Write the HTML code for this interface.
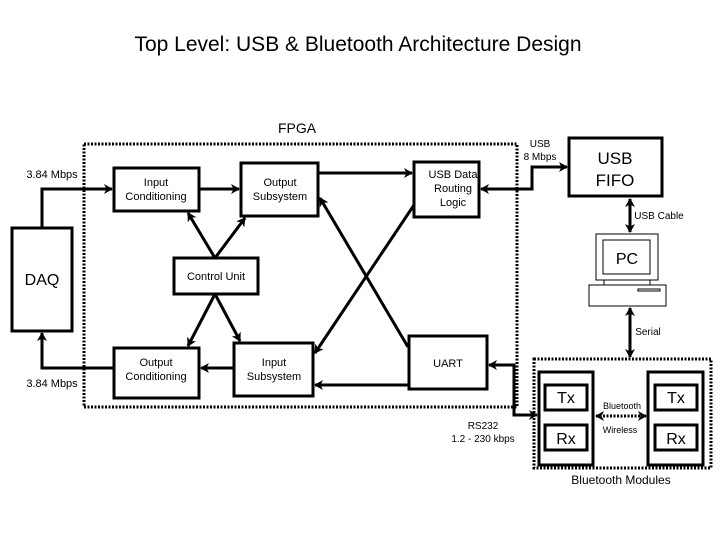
<!DOCTYPE html>
<html><head><style>
html,body{margin:0;padding:0;background:#fff;}
svg{display:block;}
text{font-family:"Liberation Sans",sans-serif;fill:#000;}
</style></head><body>
<svg width="720" height="540" viewBox="0 0 720 540" xmlns="http://www.w3.org/2000/svg">
<defs>
<marker id="a" markerWidth="10" markerHeight="10" refX="8" refY="5" orient="auto-start-reverse" markerUnits="userSpaceOnUse" viewBox="0 0 10 10"><path d="M0,0 L9,5 L0,10 L2.5,5 Z" fill="#000"/></marker>
</defs>
<text x="358" y="51" font-size="21" text-anchor="middle">Top Level:  USB &amp; Bluetooth Architecture Design</text>
<text x="297" y="133" font-size="14" text-anchor="middle">FPGA</text>
<rect x="84" y="144" width="433" height="263" fill="none" stroke="#000" stroke-width="3" stroke-dasharray="2,1.5"/>
<g fill="#fff" stroke="#000" stroke-width="3">
<rect x="12" y="228" width="60" height="103"/>
<rect x="114" y="168" width="85" height="43"/>
<rect x="241" y="163" width="77" height="53"/>
<rect x="174" y="258" width="84" height="36"/>
<rect x="114" y="348" width="85" height="50"/>
<rect x="234" y="343" width="79" height="53"/>
<rect x="414" y="162" width="65" height="55"/>
<rect x="409" y="336" width="78" height="53"/>
<rect x="569" y="138" width="93" height="58"/>
<rect x="539" y="372" width="54" height="93"/>
<rect x="545" y="385" width="42" height="25"/>
<rect x="545" y="425" width="42" height="25"/>
<rect x="648" y="372" width="55" height="93"/>
<rect x="655" y="385" width="42" height="25"/>
<rect x="655" y="425" width="42" height="25"/>
</g>
<g fill="#fff" stroke="#000" stroke-width="1">
<rect x="596" y="234" width="62" height="46"/>
<rect x="603" y="240" width="47" height="34"/>
<rect x="604" y="280" width="46" height="5"/>
<rect x="589" y="285" width="77" height="21"/>
<rect x="638" y="289" width="22" height="2"/>
</g>
<rect x="534" y="359" width="177" height="109" fill="none" stroke="#000" stroke-width="3" stroke-dasharray="2,1.5"/>
<g fill="none" stroke="#000" stroke-width="3">
<polyline points="42,228 42,189 112,189" marker-end="url(#a)"/>
<line x1="199" y1="189" x2="239" y2="189" marker-end="url(#a)"/>
<line x1="318" y1="173" x2="412" y2="173" marker-end="url(#a)"/>
<polyline points="114,368 42,368 42,333" marker-end="url(#a)"/>
<line x1="234" y1="368" x2="201" y2="368" marker-end="url(#a)"/>
<line x1="409" y1="385" x2="315" y2="385" marker-end="url(#a)"/>
<line x1="215" y1="258" x2="188" y2="213" marker-end="url(#a)"/>
<line x1="215" y1="258" x2="245" y2="218" marker-end="url(#a)"/>
<line x1="215" y1="294" x2="188" y2="346" marker-end="url(#a)"/>
<line x1="215" y1="294" x2="240" y2="341" marker-end="url(#a)"/>
<line x1="408" y1="347" x2="320" y2="198" marker-end="url(#a)"/>
<line x1="414" y1="205" x2="315" y2="353" marker-end="url(#a)"/>
<polyline points="567,167 532,167 532,189 481,189" marker-end="url(#a)" marker-start="url(#a)"/>
<polyline points="489,365 514,365 514,415 537,415" marker-end="url(#a)" marker-start="url(#a)"/>
<line x1="630" y1="199" x2="630" y2="232" marker-end="url(#a)" marker-start="url(#a)"/>
<line x1="630" y1="308" x2="630" y2="357" marker-end="url(#a)" marker-start="url(#a)"/>
<line x1="596" y1="416" x2="646" y2="416" stroke-dasharray="2,1.5" marker-end="url(#a)" marker-start="url(#a)"/>
</g>
<g font-size="11" text-anchor="middle">
<text x="52" y="178">3.84 Mbps</text>
<text x="52" y="387">3.84 Mbps</text>
<text x="156" y="186">Input</text><text x="156" y="200">Conditioning</text>
<text x="280" y="186">Output</text><text x="280" y="200">Subsystem</text>
<text x="216" y="280">Control Unit</text>
<text x="156" y="366">Output</text><text x="156" y="380">Conditioning</text>
<text x="274" y="366">Input</text><text x="274" y="380">Subsystem</text>
<text x="453" y="178">USB Data</text><text x="453" y="192">Routing</text><text x="453" y="206">Logic</text>
<text x="448" y="367">UART</text>
<text x="540" y="147" font-size="10">USB</text><text x="540" y="160" font-size="10">8 Mbps</text>
<text x="659" y="219" font-size="10">USB Cable</text>
<text x="648" y="335" font-size="10">Serial</text>
<text x="483" y="429" font-size="10">RS232</text><text x="483" y="442" font-size="10">1.2 - 230 kbps</text>
<text x="622" y="409" font-size="9">Bluetooth</text><text x="620" y="433" font-size="9">Wireless</text>
<text x="621" y="484" font-size="12">Bluetooth Modules</text>
</g>
<g font-size="16" text-anchor="middle">
<text x="42" y="285">DAQ</text>
<text x="615" y="164" font-size="17">USB</text><text x="615" y="186" font-size="17">FIFO</text>
<text x="627" y="264">PC</text>
<text x="566" y="403">Tx</text><text x="566" y="444">Rx</text>
<text x="676" y="403">Tx</text><text x="676" y="444">Rx</text>
</g>
</svg>
</body></html>
